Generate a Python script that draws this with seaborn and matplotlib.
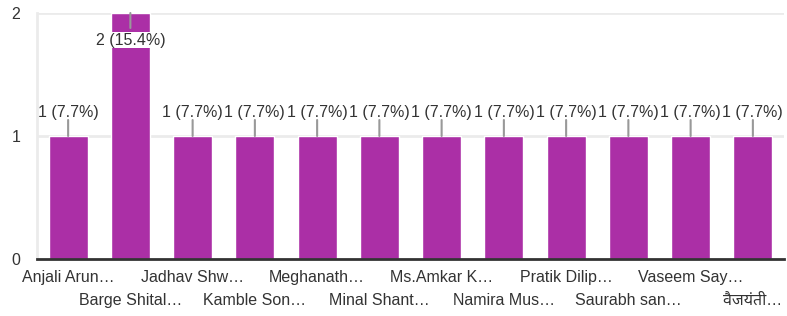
import matplotlib
matplotlib.use("Agg")
import matplotlib.pyplot as plt
import seaborn as sns
import pandas as pd

# chart data
names = [
    "Anjali Arun…", "Barge Shital…", "Jadhav Shw…", "Kamble Son…",
    "Meghanath…", "Minal Shant…", "Ms.Amkar K…", "Namira Mus…",
    "Pratik Dilip…", "Saurabh san…", "Vaseem Say…", "वैजयंती…",
]
counts = [1, 2, 1, 1, 1, 1, 1, 1, 1, 1, 1, 1]
total = 13

bar_color = "#ab2fa6"
text_color = "#333333"

sns.set_theme(style="white")
plt.rcParams["font.family"] = ["Liberation Sans", "Noto Sans Devanagari", "DejaVu Sans"]

df = pd.DataFrame({"name": names, "count": counts})

fig = plt.figure(figsize=(7.87, 3.16), dpi=100)
ax = fig.add_axes([37 / 787, 1 - 259 / 316, 747 / 787, 246 / 316])

sns.barplot(data=df, x="name", y="count", color=bar_color, width=0.63,
            saturation=1, ax=ax, zorder=3)

ax.set_xlim(-0.5, 11.5)
ax.set_ylim(0, 2)
ax.set_yticks([0, 1, 2])
ax.set_xlabel("")
ax.set_ylabel("")

# grid
for v in [1, 2]:
    ax.axhline(v, color="#ebebeb", lw=2, zorder=1)
for side in ["top", "right"]:
    ax.spines[side].set_visible(False)
ax.spines["left"].set_color("#ebebeb")
ax.spines["left"].set_linewidth(2)
ax.spines["bottom"].set_color("#333333")
ax.spines["bottom"].set_linewidth(2)
ax.spines["bottom"].set_zorder(4)

ax.tick_params(axis="both", length=0, labelsize=11.5, labelcolor=text_color)
ax.tick_params(axis="y", pad=12)
ax.tick_params(axis="x", pad=8)
for i, tick in enumerate(ax.xaxis.get_major_ticks()):
    if i % 2 == 1:
        tick.set_pad(24.5)

# value labels with leader lines
top = max(counts)
for i, c in enumerate(counts):
    label = "%d (%.1f%%)" % (c, 100.0 * c / total)
    if c == top:
        ax.annotate("", xy=(i, c), xytext=(0, -15), textcoords="offset pixels",
                    arrowprops=dict(arrowstyle="-", color="#999999", lw=1.5,
                                    shrinkA=0, shrinkB=0), zorder=5)
        ax.annotate(label, xy=(i, c), xytext=(0, -27), textcoords="offset pixels",
                    ha="center", va="center", fontsize=11.5, color=text_color,
                    bbox=dict(boxstyle="square,pad=0.05", fc="white", ec="none"),
                    zorder=6)
    else:
        ax.annotate("", xy=(i, c), xytext=(0, 16), textcoords="offset pixels",
                    arrowprops=dict(arrowstyle="-", color="#999999", lw=1.5,
                                    shrinkA=0, shrinkB=0), zorder=5)
        ax.annotate(label, xy=(i, c), xytext=(0, 23), textcoords="offset pixels",
                    ha="center", va="center", fontsize=11.5, color=text_color,
                    zorder=6)

fig.savefig("out.png", dpi=100)
